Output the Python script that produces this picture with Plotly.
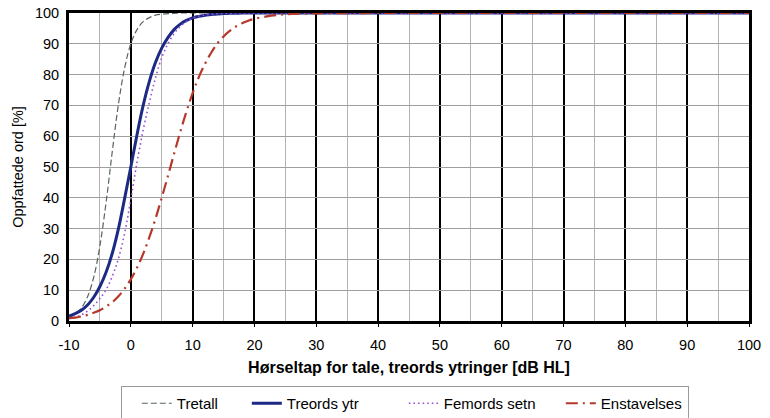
import plotly.graph_objects as go

# x positions (dB HL)
x_vals = [-10, -9, -8, -7, -6, -5, -4, -3, -2, -1, 0, 1, 2, 3, 4, 5, 6, 7, 8, 9, 10,
          11, 12, 13, 14, 15, 16, 17, 18, 19, 20, 22, 24, 26, 28, 30, 40, 100]

tretall = [1.1, 2.2, 4.2, 7.9, 14.2, 24.4, 38.5, 55.0, 70.4, 82.2, 90.0, 94.6, 97.2, 98.5, 99.3, 99.6, 99.8, 99.9, 100, 100, 100,
           100, 100, 100, 100, 100, 100, 100, 100, 100, 100, 100, 100, 100, 100, 100, 100, 100]
treords = [1.6, 2.4, 3.5, 5.2, 7.7, 11.2, 15.8, 22.0, 30.0, 39.8, 50.0, 60.5, 70.0, 77.8, 84.0, 88.6, 92.0, 94.6, 96.4, 97.6, 98.4,
           98.9, 99.3, 99.5, 99.7, 99.8, 99.9, 99.9, 100, 100, 100, 100, 100, 100, 100, 100, 100, 100]
femords = [0.8, 1.3, 2.0, 3.2, 5.0, 7.3, 10.2, 14.5, 20.3, 28.5, 39.5, 51.5, 62.0, 71.0, 79.0, 85.5, 90.0, 93.3, 95.6, 97.2, 98.3,
           99.0, 99.4, 99.6, 99.8, 99.9, 99.9, 100, 100, 100, 100, 100, 100, 100, 100, 100, 100, 100]
enstavelses = [0.9, 1.1, 1.5, 2.0, 2.7, 3.5, 4.7, 6.1, 8.0, 10.5, 13.5, 17.3, 21.8, 27.2, 33.3, 40.0, 47.1, 54.3, 61.4, 68.0, 74.0,
               79.2, 83.5, 87.1, 90.1, 92.4, 94.2, 95.6, 96.7, 97.5, 98.1, 98.9, 99.4, 99.7, 99.8, 99.9, 100, 100]

names = ["Tretall", "Treords ytr", "Femords setn", "Enstavelses"]
x_ticks = [-10, 0, 10, 20, 30, 40, 50, 60, 70, 80, 90, 100]
x_ticktext = ["-10", "0", "10", "20", "30", "40", "50", "60", "70", "80", "90", "100"]
y_ticks = [0, 10, 20, 30, 40, 50, 60, 70, 80, 90, 100]

FONT = "Liberation Sans, Arial, sans-serif"

fig = go.Figure()
fig.add_trace(go.Scatter(x=x_vals, y=tretall, name=names[0], mode="lines", line_shape="spline",
                         line=dict(color="#56675a", width=1.2, dash="6px,3px"), legendwidth=65))
fig.add_trace(go.Scatter(x=x_vals, y=treords, name=names[1], mode="lines", line_shape="spline",
                         line=dict(color="#1c2a85", width=3), legendwidth=112))
fig.add_trace(go.Scatter(x=x_vals, y=femords, name=names[2], mode="lines", line_shape="spline",
                         line=dict(color="#9a50d8", width=1.6, dash="1.6px,3px"), legendwidth=112))
fig.add_trace(go.Scatter(x=x_vals, y=enstavelses, name=names[3], mode="lines", line_shape="spline",
                         line=dict(color="#b5382a", width=2.2, dash="12px,5px,2px,5px"), legendwidth=82))

fig.update_layout(
    width=770, height=418,
    margin=dict(l=68.5, r=20.5, t=13, b=97, autoexpand=False),
    paper_bgcolor="white", plot_bgcolor="white",
    font=dict(family=FONT, size=14, color="black"),
    showlegend=True,
    legend=dict(orientation="h", x=0.077, xanchor="left", y=-0.211, yanchor="top",
                bordercolor="#9a9a9a", borderwidth=1, font=dict(size=15),
                itemwidth=30,
                title=dict(text="\u00a0", font=dict(size=16), side="left")),
    xaxis=dict(range=[-10, 100], tickvals=x_ticks, ticktext=x_ticktext, ticks="outside", ticklen=3, tickcolor="black",
               showgrid=True, gridcolor="black", gridwidth=2,
               minor=dict(dtick=5, tick0=-10, showgrid=True, gridcolor="#b4b4b4", gridwidth=1, ticks=""),
               showline=True, linecolor="black", linewidth=3, mirror=True, zeroline=False,
               tickfont=dict(size=14.5), ticklabelstandoff=6,
               title=dict(text="<b>Hørseltap for tale, treords ytringer [dB HL]</b>", font=dict(size=16), standoff=10)),
    yaxis=dict(range=[0, 100], tickvals=y_ticks, ticks="",
               showgrid=True, gridcolor="#9e9e9e", gridwidth=1,
               showline=True, linecolor="black", linewidth=3, mirror=True, zeroline=False,
               tickfont=dict(size=14.5), ticklabelstandoff=4,
               title=dict(text="Oppfattede ord [%]", font=dict(size=14.5), standoff=8)),
)

fig.write_html("out.html")
